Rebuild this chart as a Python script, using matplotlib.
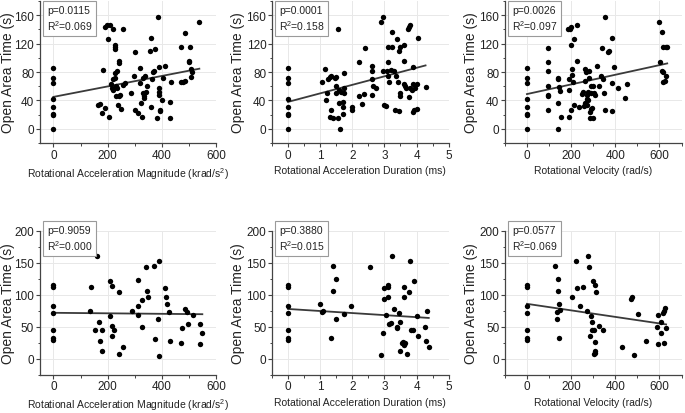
import numpy as np
import matplotlib
matplotlib.use("Agg")
import matplotlib.pyplot as plt
from matplotlib.ticker import AutoMinorLocator, MultipleLocator

plt.rcParams.update({
    "font.family": ["Liberation Sans", "DejaVu Sans"],
    "mathtext.fontset": "custom",
    "mathtext.rm": "Liberation Sans",
})

# ── Data ──────────────────────────────────────────────────────────────────────
# zero-exposure group shared by the panels of each row
zero_top = [86, 71, 64, 42, 31, 21, 20, 0]
zero_bot = [116, 112, 82, 72, 45, 32, 30]

# top row: rotational acceleration magnitude (krad/s^2)
mag_top_x = [0]*8 + [165, 170, 178, 183, 190, 190, 198, 200, 205, 207, 212, 215, 218, 220,
             220, 225, 225, 227, 227, 228, 230, 230, 233, 235, 238, 240, 240, 243, 245, 248,
             255, 255, 262, 285, 298, 300, 300, 310, 318, 320, 322, 325, 330, 330, 332, 335,
             338, 340, 345, 357, 358, 358, 362, 365, 370, 373, 380, 385, 388, 390, 390, 390,
             392, 392, 400, 405, 410, 428, 430, 432, 470, 470, 478, 483, 485, 498, 500, 502,
             505, 505, 510, 537]
mag_top_y = zero_top + [33, 35, 22, 83, 30, 144, 146, 127, 17, 147, 63, 58, 55, 70,
             140, 116, 72, 118, 113, 78, 47, 61, 58, 82, 33, 96, 47, 93, 48, 28,
             140, 62, 64, 50, 75, 108, 27, 22, 86, 65, 36, 17, 72, 50, 47, 43,
             74, 52, 60, 110, 31, 128, 70, 80, 82, 112, 15, 157, 87, 57, 52, 48,
             27, 25, 41, 71, 88, 15, 38, 66, 66, 115, 66, 135, 67, 94, 95, 116,
             84, 73, 80, 150]

# top row: rotational acceleration duration (ms)
dur_top_x = [0]*8 + [1.05, 1.15, 1.18, 1.2, 1.25, 1.3, 1.3, 1.35, 1.35, 1.4, 1.45, 1.5, 1.5,
             1.5, 1.55, 1.55, 1.6, 1.6, 1.62, 1.65, 1.7, 1.7, 1.72, 1.75, 1.75, 1.75, 2.0,
             2.0, 2.2, 2.2, 2.3, 2.35, 2.4, 2.6, 2.6, 2.6, 2.62, 2.65, 2.75, 2.9, 2.95,
             2.95, 3.0, 3.05, 3.08, 3.1, 3.1, 3.12, 3.15, 3.2, 3.25, 3.25, 3.3, 3.32, 3.35,
             3.4, 3.42, 3.45, 3.45, 3.47, 3.5, 3.5, 3.6, 3.6, 3.62, 3.65, 3.68, 3.72, 3.78,
             3.8, 3.78, 3.8, 3.85, 3.88, 3.9, 3.92, 3.95, 4.0, 4.05, 4.02, 4.28, 3.9]
dur_top_y = zero_top + [66, 84, 41, 50, 70, 73, 17, 27, 75, 16, 72, 73, 60,
             50, 15, 140, 36, 55, 0, 52, 21, 31, 38, 58, 79, 50, 27,
             31, 47, 94, 35, 49, 114, 88, 70, 48, 82, 60, 58, 150, 157,
             81, 33, 32, 81, 94, 75, 115, 66, 83, 136, 115, 82, 27, 74,
             127, 66, 25, 110, 50, 116, 47, 96, 63, 118, 60, 58, 140, 144,
             147, 45, 58, 55, 24, 63, 26, 57, 63, 128, 28, 59, 87]

# top row: rotational velocity (rad/s)
vel_top_x = [0]*8 + [95, 95, 95, 95, 95, 95, 95, 140, 140, 140, 140, 145, 150, 155, 185,
             190, 190, 190, 195, 198, 200, 200, 205, 205, 210, 215, 215, 225, 228, 235,
             250, 255, 260, 262, 265, 265, 268, 270, 270, 272, 275, 278, 280, 282, 285,
             285, 288, 290, 292, 295, 298, 300, 305, 310, 318, 325, 335, 340, 345, 350,
             352, 355, 365, 370, 385, 385, 385, 395, 410, 445, 452, 600, 603, 610, 612,
             615, 615, 618, 628, 628, 635, 625]
vel_top_y = zero_top + [114, 94, 82, 60, 48, 46, 27, 72, 70, 36, 0, 59, 54, 17, 140,
             70, 55, 17, 140, 118, 144, 27, 76, 84, 66, 127, 34, 147, 96, 31,
             49, 52, 32, 37, 67, 84, 80, 42, 33, 48, 40, 52, 82, 72, 15,
             24, 60, 28, 50, 30, 16, 60, 50, 48, 89, 60, 74, 114, 70, 50,
             27, 158, 108, 110, 128, 25, 64, 87, 57, 44, 63, 150, 94, 136, 82,
             115, 80, 66, 115, 74, 115, 67]

# bottom row: rotational acceleration magnitude (krad/s^2)
mag_bot_x = [0]*7 + [140, 135, 160, 155, 168, 170, 180, 178, 210, 215, 210, 215, 222, 215,
             240, 242, 258, 290, 310, 310, 310, 325, 325, 340, 345, 350, 370, 375, 385,
             390, 388, 410, 415, 418, 425, 430, 470, 475, 485, 490, 495, 515, 540, 538,
             548]
mag_bot_y = zero_bot + [112, 75, 161, 45, 58, 28, 45, 12, 122, 114, 67, 51, 45, 35,
             105, 7, 19, 75, 83, 124, 69, 92, 50, 143, 106, 96, 145, 31, 62,
             153, 5, 110, 96, 85, 74, 28, 25, 49, 78, 73, 55, 69, 55, 23,
             40]

# bottom row: rotational acceleration duration (ms)
dur_bot_x = [0]*7 + [1.0, 1.05, 1.1, 1.35, 1.4, 1.4, 1.5, 1.5, 1.75, 1.95, 2.55, 2.9, 2.95,
             3.0, 3.0, 3.05, 3.1, 3.12, 3.12, 3.15, 3.2, 3.25, 3.3, 3.4, 3.4, 3.45, 3.5,
             3.5, 3.55, 3.58, 3.6, 3.6, 3.62, 3.65, 3.7, 3.75, 3.8, 3.82, 3.88, 3.92, 4.0,
             4.05, 4.25, 4.3, 4.32, 4.38]
dur_bot_y = zero_bot + [85, 73, 75, 32, 145, 106, 125, 62, 70, 82, 143, 6, 40,
             93, 110, 69, 112, 115, 97, 55, 56, 161, 78, 50, 48, 72, 12,
             57, 25, 27, 112, 97, 22, 25, 7, 105, 153, 45, 45, 122, 67,
             35, 50, 28, 75, 19]

# bottom row: rotational velocity (rad/s)
vel_bot_x = [0]*7 + [125, 135, 138, 140, 142, 143, 145, 150, 205, 220, 225, 240, 255, 270,
             275, 282, 285, 290, 295, 295, 300, 302, 305, 308, 308, 310, 310, 312, 325,
             345, 430, 472, 475, 485, 505, 540, 590, 592, 595, 605, 608, 615, 620, 622,
             625, 630]
vel_bot_y = zero_bot + [145, 62, 74, 106, 125, 85, 32, 76, 97, 153, 110, 83, 112, 75,
             161, 143, 35, 67, 58, 45, 122, 45, 7, 115, 10, 27, 12, 105, 51,
             45, 19, 93, 97, 6, 70, 28, 50, 69, 23, 57, 40, 72, 75, 25,
             79, 48]

# regression lines (intercept, slope) and stats as printed on the chart
fits = [(45, 0.074), (38, 12.0), (49, 0.068),
        (72, -0.004), (78, -3.2), (86, -0.051)]
p_vals = ["0.0115", "0.0001", "0.0026", "0.9059", "0.3880", "0.0577"]
r2_vals = ["0.069", "0.158", "0.097", "0.000", "0.015", "0.069"]

xlabels = ["Rotational Acceleration Magnitude (krad/s$^2$)",
           "Rotational Acceleration Duration (ms)",
           "Rotational Velocity (rad/s)"] * 2
xs = [mag_top_x, dur_top_x, vel_top_x, mag_bot_x, dur_bot_x, vel_bot_x]
ys = [mag_top_y, dur_top_y, vel_top_y, mag_bot_y, dur_bot_y, vel_bot_y]

xlims = [(-50, 600), (-0.5, 5), (-100, 700)] * 2
xticks = [[0, 200, 400, 600], [0, 1, 2, 3, 4, 5], [0, 200, 400, 600]] * 2

fig = plt.figure(figsize=(6.85, 4.14), dpi=100)
lefts = [0.058, 0.397, 0.737]
rows = [(0.652, 0.343), (0.092, 0.348)]
ylab_x = [-0.142, -0.15, -0.15]

for i in range(6):
    r, c = divmod(i, 3)
    ax = fig.add_axes([lefts[c], rows[r][0], 0.258, rows[r][1]])
    ax.grid(True, color="#e8e8e8", lw=0.7, zorder=0)
    ax.scatter(xs[i], ys[i], s=15, color="black", zorder=3, linewidths=0)
    b, m = fits[i]
    xl = np.array([min(xs[i]), max(xs[i])])
    ax.plot(xl, b + m * xl, color="#3a3a3a", lw=1.3, zorder=2)

    ax.set_xlim(*xlims[i])
    ax.set_xticks(xticks[i])
    if r == 0:
        ax.set_ylim(-20, 180)
        ax.yaxis.set_major_locator(MultipleLocator(40))
        box_y = 0.975
    else:
        ax.set_ylim(-25, 200)
        ax.yaxis.set_major_locator(MultipleLocator(50))
        box_y = 1.04
    ax.xaxis.set_minor_locator(AutoMinorLocator(2))
    ax.yaxis.set_minor_locator(AutoMinorLocator(2))
    for s in ["top", "right"]:
        ax.spines[s].set_visible(False)
    for s in ["left", "bottom"]:
        ax.spines[s].set_color("#444444")
        ax.spines[s].set_linewidth(0.9)
    ax.tick_params(which="major", direction="out", length=3, width=0.8,
                   color="#444444", labelsize=8.5, labelcolor="#222222", pad=1)
    ax.tick_params(which="minor", direction="out", length=1.8, width=0.7, color="#444444")
    ax.set_xlabel(xlabels[i], fontsize=7.5, color="#222222", labelpad=3)
    ax.set_ylabel("Open Area Time (s)", fontsize=10, color="#222222")
    ax.yaxis.set_label_coords(ylab_x[c], 0.5)
    ax.text(0.04, box_y, f"p={p_vals[i]}\nR$^2$={r2_vals[i]}", transform=ax.transAxes,
            fontsize=7.5, va="top", ha="left", color="#222222", linespacing=1.3, zorder=5,
            bbox=dict(boxstyle="square,pad=0.35", fc="white", ec="#9a9a9a", lw=0.8))

fig.savefig("out.png", dpi=100)
